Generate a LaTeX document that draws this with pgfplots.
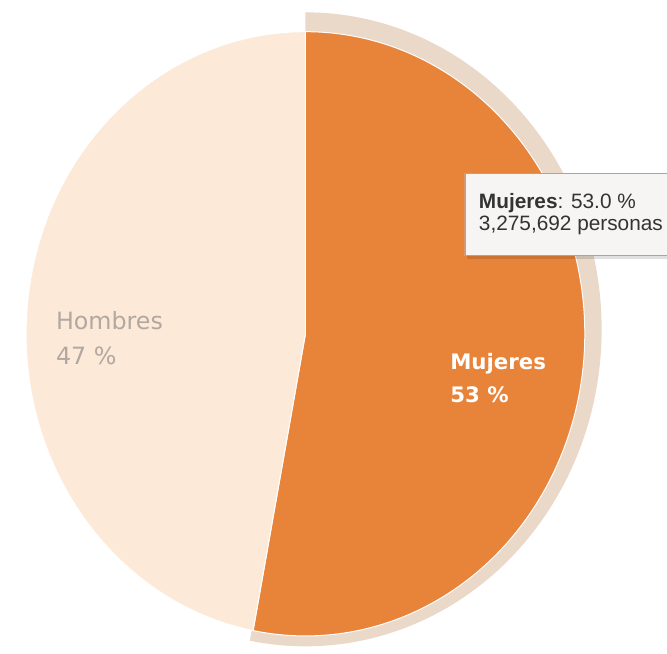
\documentclass[border=0pt]{standalone}
\usepackage{fontspec}
\setmainfont{DejaVu Sans}
\newfontfamily\tipfont{Liberation Sans}
\usepackage{pgfplots}
\usepackage{pgfplotstable}
\pgfplotsset{compat=1.18}
\definecolor{mujc}{RGB}{232,131,58}
\definecolor{homc}{RGB}{252,233,215}
\definecolor{haloc}{RGB}{234,216,200}
\definecolor{homtxt}{RGB}{178,168,162}
\definecolor{tipborder}{RGB}{214,152,112}
\definecolor{tipbg}{RGB}{246,245,243}

\pgfplotstableread{
label value
Mujeres 53.0
Hombres 47.0
}\piedata

\begin{document}
\pgfplotstablegetelem{0}{value}\of\piedata \let\vM\pgfplotsretval
\pgfplotstablegetelem{1}{value}\of\piedata \let\vH\pgfplotsretval
\pgfmathsetmacro{\fM}{\vM/(\vM+\vH)}
\pgfmathsetmacro{\aM}{90-360*\fM}
\begin{tikzpicture}
\begin{axis}[scale only axis, width=667pt, height=660pt,
  xmin=0, xmax=667, ymin=0, ymax=660, hide axis, clip=true]
\fill[white] (axis cs:0,0) rectangle (axis cs:667,660);
% halo
\fill[haloc] (axis cs:302,327.5) -- ++(90:299pt and 320pt)
  arc[start angle=90, end angle=\aM, x radius=299pt, y radius=320pt] -- cycle;
% Mujeres
\filldraw[fill=mujc, draw=white, line width=1pt] (axis cs:302,323) -- ++(90:282pt and 305pt)
  arc[start angle=90, end angle=\aM, x radius=282pt, y radius=305pt] -- cycle;
% Hombres
\filldraw[fill=homc, draw=white, line width=1pt] (axis cs:302,323) -- ++(\aM:282pt and 305pt)
  arc[start angle=\aM, end angle=-270, x radius=282pt, y radius=305pt] -- cycle;
% labels
\node[anchor=base west, inner sep=0, text=homtxt, font=\fontsize{24}{28}\selectfont] at (axis cs:50,327) {Hombres};
\node[anchor=base west, inner sep=0, text=homtxt, font=\fontsize{24}{28}\selectfont] at (axis cs:50,292) {47 \%};
\node[anchor=base west, inner sep=0, text=white, font=\bfseries\fontsize{21.5}{26}\selectfont] at (axis cs:448,287) {Mujeres};
\node[anchor=base west, inner sep=0, text=white, font=\bfseries\fontsize{21.5}{26}\selectfont] at (axis cs:448,254) {53 \%};
% tooltip
\fill[black, opacity=0.12] (axis cs:465,399) rectangle (axis cs:667,484);
\fill[tipbg] (axis cs:463,402) rectangle (axis cs:667,485);
\draw[tipborder, line width=1.2pt] (axis cs:667,485) -- (axis cs:463,485) -- (axis cs:463,402) -- (axis cs:667,402);
\node[anchor=base west, inner sep=0, font=\tipfont\fontsize{21}{25}\selectfont, text=black!80] at (axis cs:477,450) {\textbf{Mujeres}: 53.0 \%};
\node[anchor=base west, inner sep=0, font=\tipfont\fontsize{21}{25}\selectfont, text=black!80] at (axis cs:477,427) {3,275,692 personas};
\end{axis}
\end{tikzpicture}
\end{document}
